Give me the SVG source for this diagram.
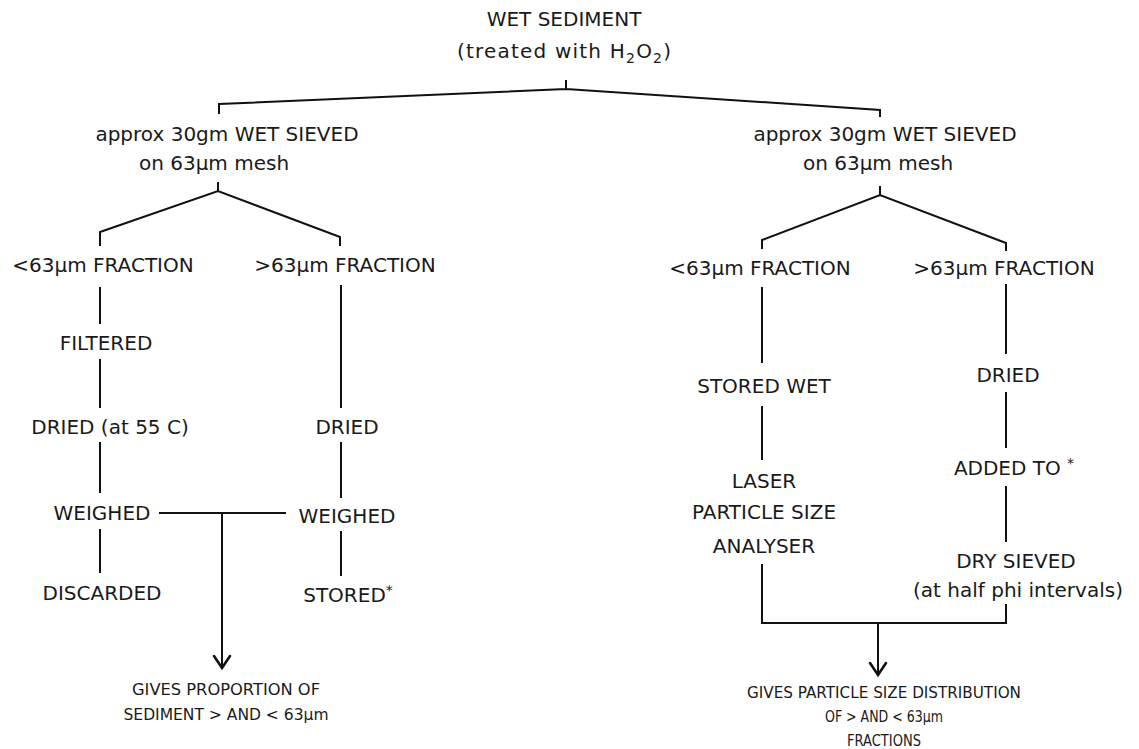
<svg xmlns="http://www.w3.org/2000/svg" width="1139" height="749" viewBox="0 0 1139 749">
<style>
.t{font-family:"DejaVu Sans","Liberation Sans",sans-serif;font-size:20px;fill:#1a1a1a;text-anchor:middle}
.s{font-family:"DejaVu Sans","Liberation Sans",sans-serif;font-size:16px;fill:#1a1a1a;text-anchor:middle}
.sub{font-size:14px}
.c{fill:none;stroke:#111;stroke-width:2;stroke-linecap:square;stroke-linejoin:miter}
.ah{fill:none;stroke:#111;stroke-width:2.6;stroke-linecap:round;stroke-linejoin:miter}
</style>
<rect width="1139" height="749" fill="#fff"/>

<g id="connectors">
  <path class="c" d="M566 81 V89 M219 113 V104 L566 89 L880 110 V116"/>
  <path class="c" d="M218 183 V191 M100 245 V232 L218 191 L340 237 V245"/>
  <path class="c" d="M880 187 V195 M762 248 V240 L880 195 L1006 243 V250"/>
  <path class="c" d="M100 288 V323 M100 360 V407 M100 443 V492 M100 530 V572"/>
  <path class="c" d="M341 286 V407 M341 443 V497 M341 532 V575"/>
  <path class="c" d="M160 513 H285 M222 513 V666"/>
  <path class="ah" d="M214 656 L222 668 L230 656"/>
  <path class="c" d="M762 288 V362 M762 407 V459 M762 565 V623 H1006 V605"/>
  <path class="c" d="M1006 285 V353 M1006 393 V447 M1006 487 V541"/>
  <path class="c" d="M878 623 V673"/>
  <path class="ah" d="M870 663 L878 675 L886 663"/>
</g>

<g id="wet-sediment">
  <text class="t" x="564" y="26">WET SEDIMENT</text>
  <text class="t" x="564" y="58" textLength="214">(treated with H<tspan class="sub" dy="5">2</tspan><tspan dy="-5">O</tspan><tspan class="sub" dy="5">2</tspan><tspan dy="-5">)</tspan></text>
</g>

<g id="left-sieve">
  <text class="t" x="227" y="141">approx 30gm WET SIEVED</text>
  <text class="t" x="214" y="170">on 63µm mesh</text>
</g>
<g id="right-sieve">
  <text class="t" x="885" y="141">approx 30gm WET SIEVED</text>
  <text class="t" x="878" y="170">on 63µm mesh</text>
</g>

<g id="left-fine"><text class="t" x="103" y="272">&lt;63µm FRACTION</text></g>
<g id="left-coarse"><text class="t" x="345" y="272">&gt;63µm FRACTION</text></g>
<g id="right-fine"><text class="t" x="760" y="275">&lt;63µm FRACTION</text></g>
<g id="right-coarse"><text class="t" x="1004" y="275">&gt;63µm FRACTION</text></g>

<g id="filtered"><text class="t" x="106" y="350">FILTERED</text></g>
<g id="dried-55"><text class="t" x="110" y="434">DRIED (at 55 C)</text></g>
<g id="weighed-left"><text class="t" x="102" y="520">WEIGHED</text></g>
<g id="discarded"><text class="t" x="102" y="600">DISCARDED</text></g>

<g id="dried-left"><text class="t" x="347" y="434">DRIED</text></g>
<g id="weighed-right"><text class="t" x="347" y="523">WEIGHED</text></g>
<g id="stored"><text class="t" x="348" y="602">STORED<tspan font-size="14" dy="-7">*</tspan></text></g>

<g id="stored-wet"><text class="t" x="764" y="393">STORED WET</text></g>
<g id="laser">
  <text class="t" x="764" y="488">LASER</text>
  <text class="t" x="764" y="519">PARTICLE SIZE</text>
  <text class="t" x="764" y="553">ANALYSER</text>
</g>

<g id="dried-right"><text class="t" x="1008" y="382">DRIED</text></g>
<g id="added-to"><text class="t" x="1014" y="475">ADDED TO <tspan font-size="14" dy="-7">*</tspan></text></g>
<g id="dry-sieved">
  <text class="t" x="1016" y="568">DRY SIEVED</text>
  <text class="t" x="1018" y="597">(at half phi intervals)</text>
</g>

<g id="gives-proportion">
  <text class="s" x="226" y="695" textLength="188" lengthAdjust="spacingAndGlyphs">GIVES PROPORTION OF</text>
  <text class="s" x="226" y="720" textLength="205" lengthAdjust="spacingAndGlyphs">SEDIMENT &gt; AND &lt; 63µm</text>
</g>
<g id="gives-distribution">
  <text class="s" x="884" y="698" textLength="274" lengthAdjust="spacingAndGlyphs">GIVES PARTICLE SIZE DISTRIBUTION</text>
  <text class="s" x="884" y="722" textLength="118" lengthAdjust="spacingAndGlyphs">OF &gt; AND &lt; 63µm</text>
  <text class="s" x="884" y="746" textLength="74" lengthAdjust="spacingAndGlyphs">FRACTIONS</text>
</g>
</svg>
